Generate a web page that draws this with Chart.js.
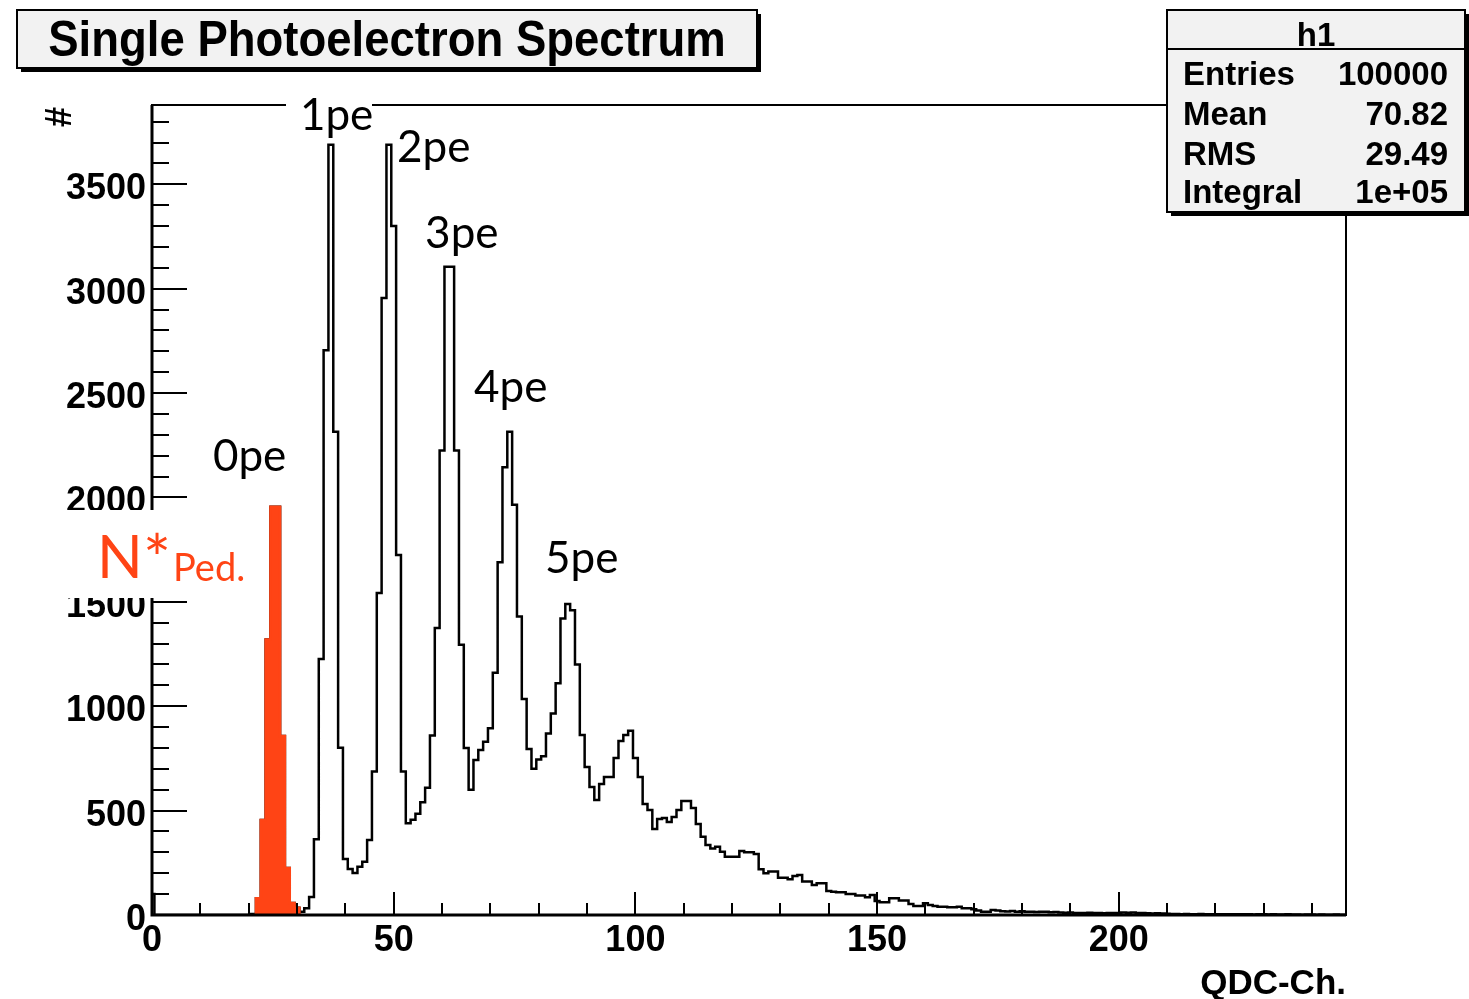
<!DOCTYPE html>
<html>
<head>
<meta charset="utf-8">
<title>Single Photoelectron Spectrum</title>
<script src="https://cdn.jsdelivr.net/npm/chart.js@4.4.1/dist/chart.umd.min.js"></script>
<style>
  html, body { margin: 0; padding: 0; background: #fff; }
  canvas { display: block; }
</style>
</head>
<body>
<canvas id="spe" width="1469" height="999"></canvas>
<script>
// QDC spectrum, one count per channel starting at channel 0
var counts = [
  100, 0, 0, 0, 0, 0, 0, 0, 0, 0,
  0, 0, 0, 0, 0, 0, 0, 0, 0, 0,
  0, 5, 80, 455, 1320, 1955, 1955, 858, 225, 57,
  35, 16, 32, 86, 363, 1226, 2705, 3690, 2315, 801,
  268, 220, 201, 231, 255, 359, 687, 1542, 2955, 3690,
  3300, 1725, 687, 440, 456, 485, 540, 610, 860, 1375,
  2225, 3105, 3105, 2225, 1295, 800, 600, 743, 790, 830,
  895, 1160, 1690, 2145, 2315, 1965, 1430, 1035, 795, 700,
  745, 760, 870, 965, 1110, 1420, 1490, 1460, 1200, 862,
  709, 613, 551, 628, 661, 661, 752, 833, 862, 882,
  752, 661, 532, 503, 412, 460, 465, 445, 470, 503,
  546, 546, 513, 436, 375, 335, 319, 327, 303, 279,
  279, 279, 307, 300, 300, 292, 219, 200, 208, 208,
  179, 179, 171, 187, 192, 160, 160, 144, 152, 152,
  115, 111, 109, 109, 101, 101, 93, 93, 85, 96,
  67, 61, 61, 80, 80, 69, 69, 53, 43, 43,
  56, 48, 43, 40, 40, 37, 37, 40, 32, 32,
  27, 21, 16, 16, 24, 21, 18, 17, 19, 16,
  18, 15, 16, 14, 16, 15, 13, 14, 12, 11,
  12, 10, 9, 10, 11, 9, 10, 8, 9, 10,
  9, 12, 11, 12, 10, 9, 8, 7, 8, 7,
  6, 5, 5, 4, 5, 4, 4, 5, 4, 3,
  4, 4, 3, 4, 3, 3, 4, 3, 2, 3,
  3, 2, 3, 2, 2, 3, 2, 2, 1, 2,
  2, 1, 2, 1, 1, 2, 1, 1
];

// pedestal (0 p.e.) channels, filled in red
var pedStart = 21;
var pedestal = [0, 80, 455, 1320, 1955, 1955, 858, 225, 57, 35, 0];

var xTickLabels = [0, 50, 100, 150, 200];
var yTickLabels = [0, 500, 1000, 1500, 2000, 2500, 3000, 3500];
var peakNames = ['0pe', '1pe', '2pe', '3pe', '4pe', '5pe'];
var statNames = ['Entries', 'Mean', 'RMS', 'Integral'];
var statValues = ['100000', '70.82', '29.49', '1e+05'];

var RED = '#ff4415';
var ROOT_FONT = '"Liberation Sans", Arial, Helvetica, sans-serif';
var NOTE_FONT = 'Lato, "Open Sans", sans-serif';

function shadowBox(ctx, x, y, w, h, d) {
    ctx.fillStyle = '#000';
    ctx.fillRect(x + d, y + d, w, h);
    ctx.fillStyle = '#f2f2f2';
    ctx.fillRect(x, y, w, h);
    ctx.lineWidth = 2;
    ctx.strokeStyle = '#000';
    ctx.strokeRect(x, y, w, h);
}

// frame, inward ticks, labels, title and stats box drawn the way ROOT does it
var rootFrame = {
    id: 'rootFrame',
    afterDraw: function (chart) {
        var ctx = chart.ctx;
        var a = chart.chartArea;
        var xs = chart.scales.x;
        var ys = chart.scales.y;
        ctx.save();

        ctx.strokeStyle = '#000';
        ctx.lineWidth = 2;
        ctx.strokeRect(a.left, a.top, a.right - a.left, a.bottom - a.top);
        ctx.lineWidth = 3;
        ctx.beginPath();
        ctx.moveTo(a.left, a.top);
        ctx.lineTo(a.left, a.bottom);
        ctx.lineTo(a.right, a.bottom);
        ctx.stroke();

        ctx.lineWidth = 2;
        ctx.beginPath();
        for (var c = 0; c <= xs.max; c += 10) {
            var px = Math.round(xs.getPixelForValue(c));
            ctx.moveTo(px, a.bottom);
            ctx.lineTo(px, a.bottom - (c % 50 === 0 ? 23 : 12));
        }
        for (var n = 0; n <= ys.max; n += 100) {
            var py = Math.round(ys.getPixelForValue(n));
            ctx.moveTo(a.left, py);
            ctx.lineTo(a.left + (n % 500 === 0 ? 35 : 17), py);
        }
        ctx.stroke();

        ctx.fillStyle = '#000';
        ctx.font = 'bold 36px ' + ROOT_FONT;
        ctx.textAlign = 'center';
        ctx.textBaseline = 'top';
        xTickLabels.forEach(function (t) {
            ctx.fillText(String(t), xs.getPixelForValue(t), a.bottom + 8);
        });
        ctx.textAlign = 'right';
        ctx.textBaseline = 'middle';
        yTickLabels.forEach(function (t) {
            ctx.fillText(String(t), a.left - 6, ys.getPixelForValue(t) + 5);
        });

        // axis titles
        ctx.textBaseline = 'alphabetic';
        ctx.font = 'bold 35px ' + ROOT_FONT;
        ctx.fillText('QDC-Ch.', a.right, 994);
        ctx.save();
        ctx.translate(61, 117);
        ctx.rotate(-Math.PI / 2);
        ctx.textAlign = 'center';
        ctx.textBaseline = 'middle';
        ctx.font = 'bold 36px ' + ROOT_FONT;
        ctx.fillText('#', 0, 0);
        ctx.restore();

        // white backing behind the annotations
        ctx.fillStyle = '#fff';
        ctx.fillRect(286, 94, 86, 20);
        ctx.fillRect(56, 510, 196, 88);

        // peak annotations, anchored in channel / count units
        var noteAt = [[12.6, 2127], [30.6, 3761], [50.7, 3608], [56.5, 3196], [66.6, 2458], [81.3, 1639]];
        ctx.fillStyle = '#000';
        ctx.font = '44px ' + NOTE_FONT;
        ctx.textAlign = 'left';
        peakNames.forEach(function (name, i) {
            ctx.fillText(name, xs.getPixelForValue(noteAt[i][0]), ys.getPixelForValue(noteAt[i][1]));
        });

        ctx.fillStyle = RED;
        ctx.font = '60px ' + NOTE_FONT;
        ctx.fillText('N', 97, 578);
        ctx.font = '66px ' + NOTE_FONT;
        ctx.fillText('*', 143, 583);
        ctx.font = '38px ' + NOTE_FONT;
        ctx.fillText('Ped.', 173, 581);

        // title
        shadowBox(ctx, 17, 10, 740, 58, 4);
        ctx.save();
        ctx.translate(387, 56);
        ctx.scale(0.91, 1);
        ctx.fillStyle = '#000';
        ctx.font = 'bold 50px ' + ROOT_FONT;
        ctx.textAlign = 'center';
        ctx.fillText('Single Photoelectron Spectrum', 0, 0);
        ctx.restore();

        // statistics box
        shadowBox(ctx, 1167, 10, 298, 202, 4);
        ctx.beginPath();
        ctx.moveTo(1167, 49);
        ctx.lineTo(1465, 49);
        ctx.stroke();
        ctx.fillStyle = '#000';
        ctx.font = 'bold 33px ' + ROOT_FONT;
        ctx.textAlign = 'center';
        ctx.fillText('h1', 1316, 46);
        var rowY = [85, 125, 165, 203];
        statNames.forEach(function (s, i) {
            ctx.textAlign = 'left';
            ctx.fillText(s, 1183, rowY[i]);
            ctx.textAlign = 'right';
            ctx.fillText(statValues[i], 1448, rowY[i]);
        });

        ctx.restore();
    }
};

var ctx = document.getElementById('spe').getContext('2d');
var chart = new Chart(ctx, {
    type: 'line',
    data: {
        datasets: [{
            label: 'Pedestal',
            data: pedestal.map(function (v, i) { return { x: pedStart + i, y: v }; }),
            stepped: 'middle',
            fill: 'origin',
            backgroundColor: RED,
            borderColor: RED,
            borderWidth: 2.5,
            pointRadius: 0,
            order: 0
        }, {
            label: 'h1',
            data: counts.map(function (v, i) { return { x: i, y: v }; }),
            stepped: 'middle',
            fill: false,
            borderColor: '#000',
            borderWidth: 2.5,
            pointRadius: 0,
            order: 1
        }]
    },
    options: {
        responsive: false,
        animation: false,
        devicePixelRatio: 1,
        layout: { padding: { left: 152, right: 123, top: 105, bottom: 84 } },
        plugins: { legend: { display: false }, tooltip: { enabled: false } },
        scales: {
            x: { type: 'linear', min: 0, max: 247, display: false },
            y: { type: 'linear', min: 0, max: 3880, display: false }
        }
    },
    plugins: [rootFrame]
});
</script>
</body>
</html>
